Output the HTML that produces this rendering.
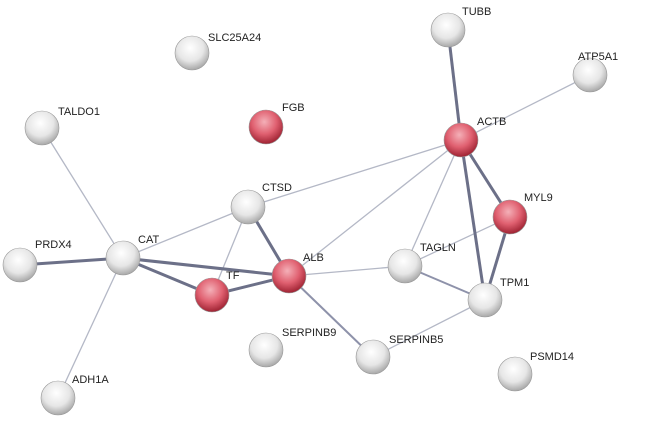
<!DOCTYPE html>
<html><head><meta charset="utf-8"><style>
html,body{margin:0;padding:0;background:#fff;width:650px;height:423px;overflow:hidden}
text{font-family:"Liberation Sans",sans-serif;font-size:11px;fill:#222}
</style></head><body>
<svg width="650" height="423" viewBox="0 0 650 423" xmlns="http://www.w3.org/2000/svg">
<defs>
<radialGradient id="g" cx="45%" cy="35%" r="65%">
<stop offset="0" stop-color="#ffffff"/><stop offset="0.6" stop-color="#e6e6e6"/><stop offset="1" stop-color="#a8a8a8"/></radialGradient>
<radialGradient id="r" cx="45%" cy="35%" r="65%">
<stop offset="0" stop-color="#f4b0b8"/><stop offset="0.55" stop-color="#e06070"/><stop offset="1" stop-color="#9e2232"/></radialGradient>
</defs>
<g stroke="#b4b8c6" stroke-width="1.3" fill="none">
<line x1="461" y1="140" x2="590" y2="75"/>
<line x1="461" y1="140" x2="248" y2="207"/>
<line x1="461" y1="140" x2="289" y2="276"/>
<line x1="461" y1="140" x2="405" y2="266"/>
<line x1="510" y1="217" x2="405" y2="266"/>
<line x1="42" y1="128" x2="123" y2="258"/>
<line x1="123" y1="258" x2="58" y2="398"/>
<line x1="123" y1="258" x2="248" y2="207"/>
<line x1="248" y1="207" x2="212" y2="295"/>
<line x1="289" y1="276" x2="405" y2="266"/>
<line x1="373" y1="357" x2="485" y2="300"/>
</g>
<g stroke="#8e92aa" stroke-width="2" fill="none">
<line x1="405" y1="266" x2="485" y2="300"/>
<line x1="289" y1="276" x2="373" y2="357"/>
</g>
<g stroke="#6c7088" stroke-width="3" fill="none">
<line x1="448" y1="30" x2="461" y2="140"/>
<line x1="461" y1="140" x2="510" y2="217"/>
<line x1="461" y1="140" x2="485" y2="300"/>
<line x1="510" y1="217" x2="485" y2="300"/>
<line x1="123" y1="258" x2="20" y2="265"/>
<line x1="123" y1="258" x2="212" y2="295"/>
<line x1="123" y1="258" x2="289" y2="276"/>
<line x1="248" y1="207" x2="289" y2="276"/>
<line x1="212" y1="295" x2="289" y2="276"/>
</g>
<g stroke="#999" stroke-width="0.6">
<circle cx="448" cy="30" r="17" fill="url(#g)"/>
<circle cx="590" cy="75" r="17" fill="url(#g)"/>
<circle cx="192" cy="53" r="17" fill="url(#g)"/>
<circle cx="266" cy="127" r="17" fill="url(#r)"/>
<circle cx="42" cy="128" r="17" fill="url(#g)"/>
<circle cx="461" cy="140" r="17" fill="url(#r)"/>
<circle cx="248" cy="207" r="17" fill="url(#g)"/>
<circle cx="510" cy="217" r="17" fill="url(#r)"/>
<circle cx="20" cy="265" r="17" fill="url(#g)"/>
<circle cx="123" cy="258" r="17" fill="url(#g)"/>
<circle cx="212" cy="295" r="17" fill="url(#r)"/>
<circle cx="289" cy="276" r="17" fill="url(#r)"/>
<circle cx="405" cy="266" r="17" fill="url(#g)"/>
<circle cx="485" cy="300" r="17" fill="url(#g)"/>
<circle cx="266" cy="350" r="17" fill="url(#g)"/>
<circle cx="373" cy="357" r="17" fill="url(#g)"/>
<circle cx="515" cy="374" r="17" fill="url(#g)"/>
<circle cx="58" cy="398" r="17" fill="url(#g)"/>
</g>
<g>
<text x="462" y="15">TUBB</text>
<text x="578" y="60">ATP5A1</text>
<text x="208" y="41">SLC25A24</text>
<text x="282" y="111">FGB</text>
<text x="58" y="115">TALDO1</text>
<text x="477" y="125">ACTB</text>
<text x="262" y="191">CTSD</text>
<text x="524" y="201">MYL9</text>
<text x="35" y="248">PRDX4</text>
<text x="138" y="243">CAT</text>
<text x="226" y="279">TF</text>
<text x="303" y="261">ALB</text>
<text x="420" y="251">TAGLN</text>
<text x="500" y="286">TPM1</text>
<text x="282" y="336">SERPINB9</text>
<text x="389" y="343">SERPINB5</text>
<text x="530" y="360">PSMD14</text>
<text x="72" y="383">ADH1A</text>
</g>
</svg>
</body></html>
